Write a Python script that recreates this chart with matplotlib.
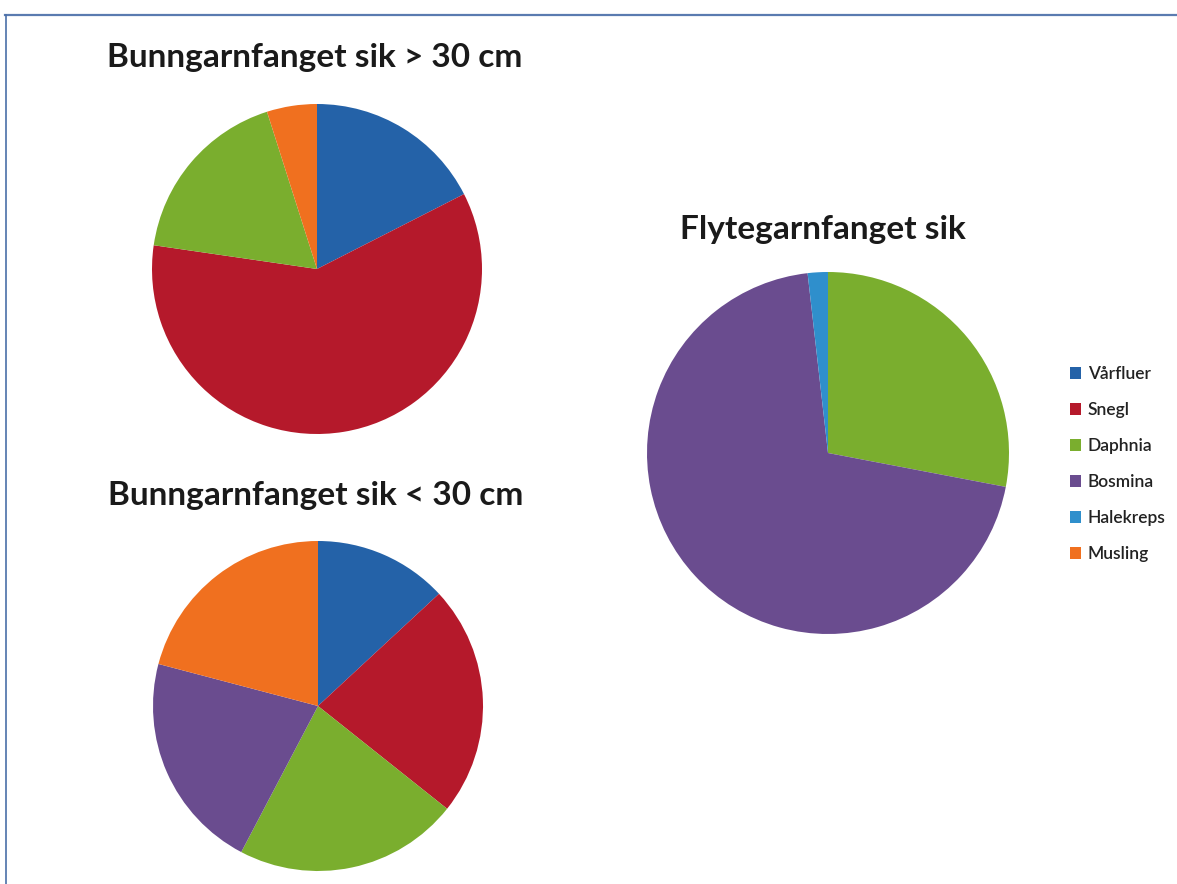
import matplotlib.pyplot as plt
from matplotlib.patches import Patch
from matplotlib.lines import Line2D

W, H = 1177, 884

categories = ["Vårfluer", "Snegl", "Daphnia", "Bosmina", "Halekreps", "Musling"]
colors = {
    "Vårfluer": "#2462a8",
    "Snegl": "#b5192b",
    "Daphnia": "#7aae2e",
    "Bosmina": "#6a4c8f",
    "Halekreps": "#2f8fcc",
    "Musling": "#f0701f",
}

# diet composition (share of stomach content)
big_labels = ["Vårfluer", "Snegl", "Daphnia", "Musling"]
big_values = [17.5, 59.8, 17.8, 4.9]

small_labels = ["Vårfluer", "Snegl", "Daphnia", "Bosmina", "Musling"]
small_values = [13.1, 22.6, 22.0, 21.4, 20.9]

pelagic_labels = ["Daphnia", "Bosmina", "Halekreps"]
pelagic_values = [28.0, 70.2, 1.8]

plt.rcParams["font.family"] = ["Lato", "DejaVu Sans"]
fig = plt.figure(figsize=(W / 100, H / 100), dpi=100)


def pie_at(cx, cy, r, labels, values):
    ax = fig.add_axes([(cx - r) / W, 1 - (cy + r) / H, 2 * r / W, 2 * r / H])
    ax.pie(values, colors=[colors[l] for l in labels], startangle=90,
           counterclock=False, radius=1,
           wedgeprops=dict(linewidth=0.5, edgecolor="none"))
    ax.set_xlim(-1.0, 1.0)
    ax.set_ylim(-1.0, 1.0)
    ax.set_aspect("equal")
    ax.axis("off")
    return ax


pie_at(317, 269, 165, big_labels, big_values)
pie_at(318, 706, 165, small_labels, small_values)
pie_at(828, 453, 181, pelagic_labels, pelagic_values)

title_kw = dict(fontsize=24, fontweight="bold", color="#1a1a1a",
                ha="center", va="center")
fig.text(315 / W, 1 - 58 / H, "Bunngarnfanget sik > 30 cm", **title_kw)
fig.text(316 / W, 1 - 495 / H, "Bunngarnfanget sik < 30 cm", **title_kw)
fig.text(823 / W, 1 - 229 / H, "Flytegarnfanget sik", **title_kw)

handles = [Patch(facecolor=colors[c], edgecolor="none", label=c) for c in categories]
fig.legend(handles=handles, loc="center left",
           bbox_to_anchor=(1054 / W, 1 - 464 / H), frameon=False,
           prop=dict(size=12.5, weight="semibold"),
           handlelength=0.65, handleheight=0.65,
           handletextpad=0.4, labelspacing=1.15, labelcolor="#222222")

# frame lines around the chart area
fig.add_artist(Line2D([5 / W, 1.0], [1 - 15 / H, 1 - 15 / H],
                      transform=fig.transFigure, color="#5a7bb0", linewidth=1.6))
fig.add_artist(Line2D([6 / W, 6 / W], [1 - 15 / H, 0],
                      transform=fig.transFigure, color="#4a6fa8", linewidth=1.2))

fig.savefig("out.png", dpi=100, facecolor="white")
